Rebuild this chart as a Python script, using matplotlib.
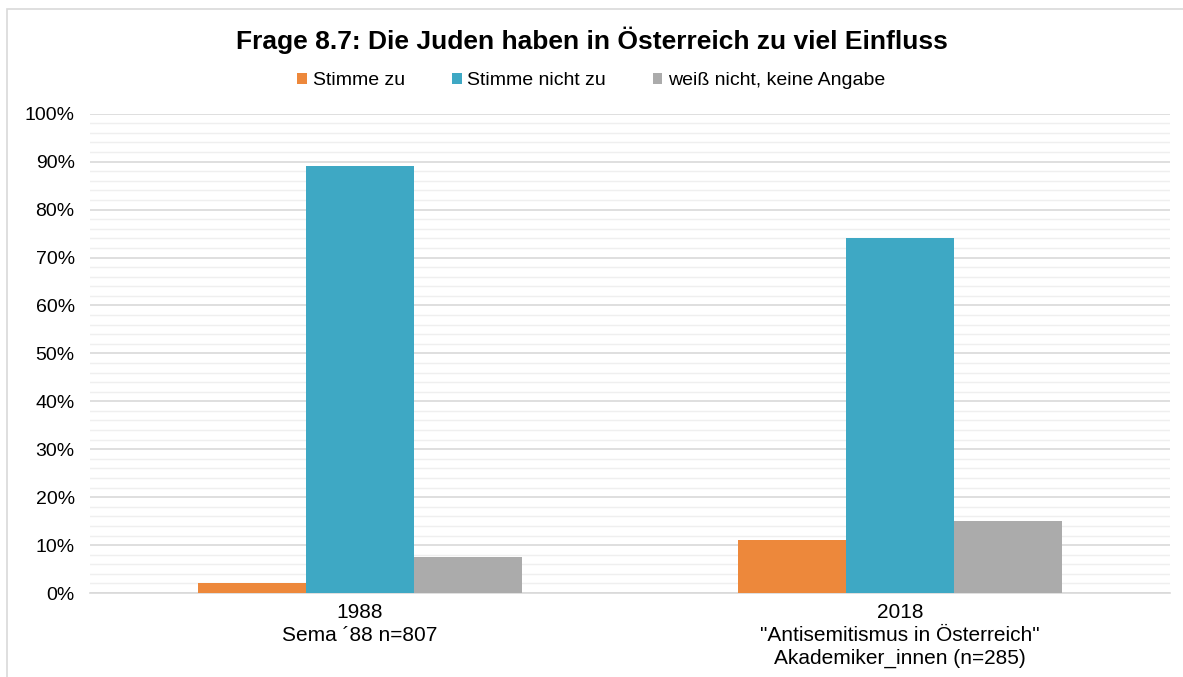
import numpy as np
import matplotlib.pyplot as plt
from matplotlib.ticker import MultipleLocator, PercentFormatter
from matplotlib.patches import Rectangle

plt.rcParams['font.family'] = ['Liberation Sans', 'DejaVu Sans']

categories = ['1988\nSema ´88 n=807',
              '2018\n"Antisemitismus in Österreich"\nAkademiker_innen (n=285)']
series = ['Stimme zu', 'Stimme nicht zu', 'weiß nicht, keine Angabe']
stimme_zu = [2, 11]
stimme_nicht_zu = [89, 74]
weiss_nicht = [7.5, 15]
colors = ['#ed883b', '#3ea8c4', '#ababab']

fig = plt.figure(figsize=(11.83, 6.77), dpi=100)
ax = fig.add_axes([0.076, 0.124, 0.913, 0.708])

# chart frame
fig.patches.append(Rectangle((0.006, -0.01), 1.0, 0.997, transform=fig.transFigure,
                             fill=False, edgecolor='#d9d9d9', linewidth=1.2))

x = np.arange(len(categories))
w = 0.2
for i, (vals, name) in enumerate(zip([stimme_zu, stimme_nicht_zu, weiss_nicht], series)):
    ax.bar(x + (i - 1) * w, vals, width=w, color=colors[i], label=name, zorder=3)

ax.set_xlim(-0.5, 1.5)
ax.set_ylim(0, 100)
ax.yaxis.set_major_locator(MultipleLocator(10))
ax.yaxis.set_minor_locator(MultipleLocator(2))
ax.yaxis.set_major_formatter(PercentFormatter(decimals=0))
ax.grid(which='major', axis='y', color='#d9d9d9', linewidth=1.2, zorder=0)
ax.grid(which='minor', axis='y', color='#efefef', linewidth=1.0, zorder=0)
ax.set_xticks(x)
ax.set_xticklabels(categories, fontsize=15, linespacing=1.25)
ax.tick_params(axis='both', which='both', length=0)
ax.tick_params(axis='y', labelsize=14, pad=11)
ax.tick_params(axis='x', pad=7)
for s in ['top', 'right', 'left']:
    ax.spines[s].set_visible(False)
ax.spines['bottom'].set_color('#d9d9d9')
ax.spines['bottom'].set_linewidth(1.2)

fig.text(0.5, 0.941, 'Frage 8.7: Die Juden haben in Österreich zu viel Einfluss',
         ha='center', va='center', fontsize=19, fontweight='bold')
fig.legend(loc='center', bbox_to_anchor=(0.5, 0.881), ncol=3, frameon=False,
           fontsize=14, handlelength=0.5, handleheight=0.5, handletextpad=0.3,
           columnspacing=2.4)

fig.savefig('out.png', dpi=100)
